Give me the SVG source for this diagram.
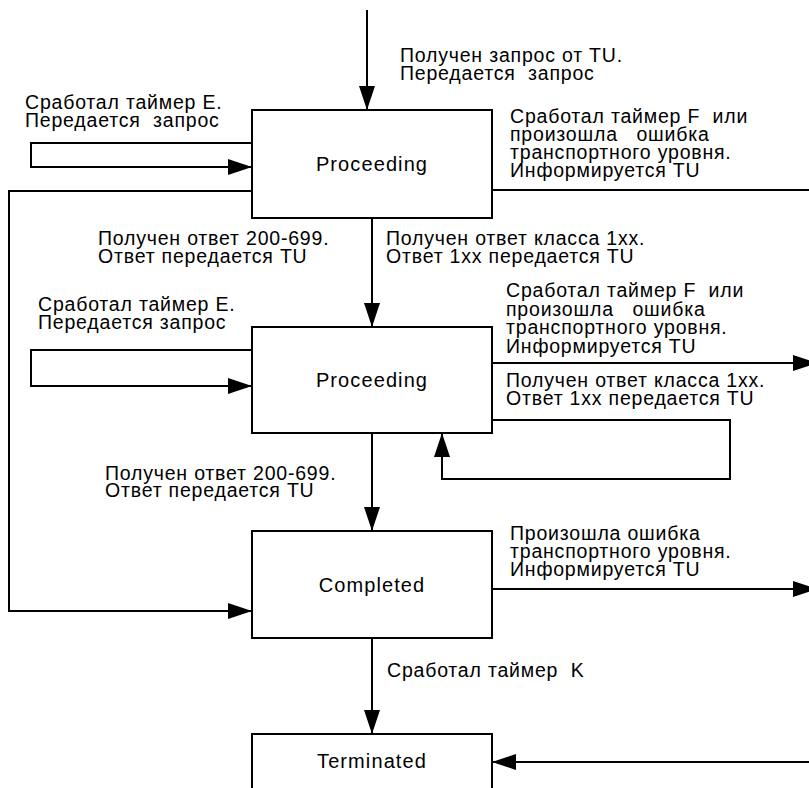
<svg xmlns="http://www.w3.org/2000/svg" width="809" height="788" viewBox="0 0 809 788">
  <style>
    .box { fill: #ffffff; stroke: #000000; stroke-width: 2; }
    .wire { fill: none; stroke: #000000; stroke-width: 2; }
    .lbl { font-family: "Liberation Sans", Arial, sans-serif; font-size: 19.5px; letter-spacing: 0.8px; fill: #000000; white-space: pre; }
    .state { font-family: "Liberation Sans", Arial, sans-serif; font-size: 20px; letter-spacing: 1.1px; fill: #000000; text-anchor: middle; }
  </style>
  <defs>
    <marker id="arrow" markerUnits="userSpaceOnUse" markerWidth="24" markerHeight="16" refX="24" refY="8" orient="auto">
      <path d="M0,0 L24,8 L0,16 Z" fill="#000000"/>
    </marker>
  </defs>
  <rect width="809" height="788" fill="#ffffff"/>

  <!-- transitions -->
  <g id="connectors">
    <path class="wire" d="M367,10 V110" marker-end="url(#arrow)"/>
    <path class="wire" d="M252,143 H31 V167 H252" marker-end="url(#arrow)"/>
    <path class="wire" d="M252,191 H9 V611 H252" marker-end="url(#arrow)"/>
    <path class="wire" d="M492,190 H809"/>
    <path class="wire" d="M372,218 V327" marker-end="url(#arrow)"/>
    <path class="wire" d="M252,350 H31 V386 H252" marker-end="url(#arrow)"/>
    <path class="wire" d="M492,363 H817" marker-end="url(#arrow)"/>
    <path class="wire" d="M492,420 H730 V479 H442 V433" marker-end="url(#arrow)"/>
    <path class="wire" d="M372,433 V531" marker-end="url(#arrow)"/>
    <path class="wire" d="M492,589 H817" marker-end="url(#arrow)"/>
    <path class="wire" d="M372,638 V734" marker-end="url(#arrow)"/>
    <path class="wire" d="M809,762 H492" marker-end="url(#arrow)"/>
  </g>

  <!-- states -->
  <g id="proceeding-1">
    <rect class="box" x="252" y="110" width="240" height="108"/>
    <text class="state" x="372" y="171">Proceeding</text>
  </g>
  <g id="proceeding-2">
    <rect class="box" x="252" y="327" width="240" height="106"/>
    <text class="state" x="372" y="387">Proceeding</text>
  </g>
  <g id="completed">
    <rect class="box" x="252" y="531" width="240" height="107"/>
    <text class="state" x="372" y="592">Completed</text>
  </g>
  <g id="terminated">
    <rect class="box" x="252" y="734" width="240" height="80"/>
    <text class="state" x="372" y="768">Terminated</text>
  </g>

  <!-- transition labels -->
  <g id="labels">
    <text class="lbl"><tspan x="400" y="62">Получен запрос от TU.</tspan><tspan x="400" y="80">Передается  запрос</tspan></text>

    <text class="lbl"><tspan x="25" y="109">Сработал таймер E.</tspan><tspan x="25" y="127">Передается  запрос</tspan></text>

    <text class="lbl"><tspan x="510" y="123">Сработал таймер F  или</tspan><tspan x="510" y="141">произошла   ошибка</tspan><tspan x="510" y="159">транспортного уровня.</tspan><tspan x="510" y="177">Информируется TU</tspan></text>

    <text class="lbl"><tspan x="98" y="245">Получен ответ 200-699.</tspan><tspan x="98" y="263">Ответ передается TU</tspan></text>

    <text class="lbl"><tspan x="386" y="245">Получен ответ класса 1xx.</tspan><tspan x="386" y="263">Ответ 1xx передается TU</tspan></text>

    <text class="lbl"><tspan x="38" y="311">Сработал таймер E.</tspan><tspan x="38" y="329">Передается запрос</tspan></text>

    <text class="lbl"><tspan x="506" y="297">Сработал таймер F  или</tspan><tspan x="506" y="315.5">произошла   ошибка</tspan><tspan x="506" y="334">транспортного уровня.</tspan><tspan x="506" y="352.5">Информируется TU</tspan></text>

    <text class="lbl"><tspan x="506" y="387">Получен ответ класса 1xx.</tspan><tspan x="506" y="405">Ответ 1xx передается TU</tspan></text>

    <text class="lbl"><tspan x="105" y="480">Получен ответ 200-699.</tspan><tspan x="105" y="497">Ответ передается TU</tspan></text>

    <text class="lbl"><tspan x="510" y="540">Произошла ошибка</tspan><tspan x="510" y="558">транспортного уровня.</tspan><tspan x="510" y="576">Информируется TU</tspan></text>

    <text class="lbl" x="387" y="677">Сработал таймер  K</text>
  </g>
</svg>
